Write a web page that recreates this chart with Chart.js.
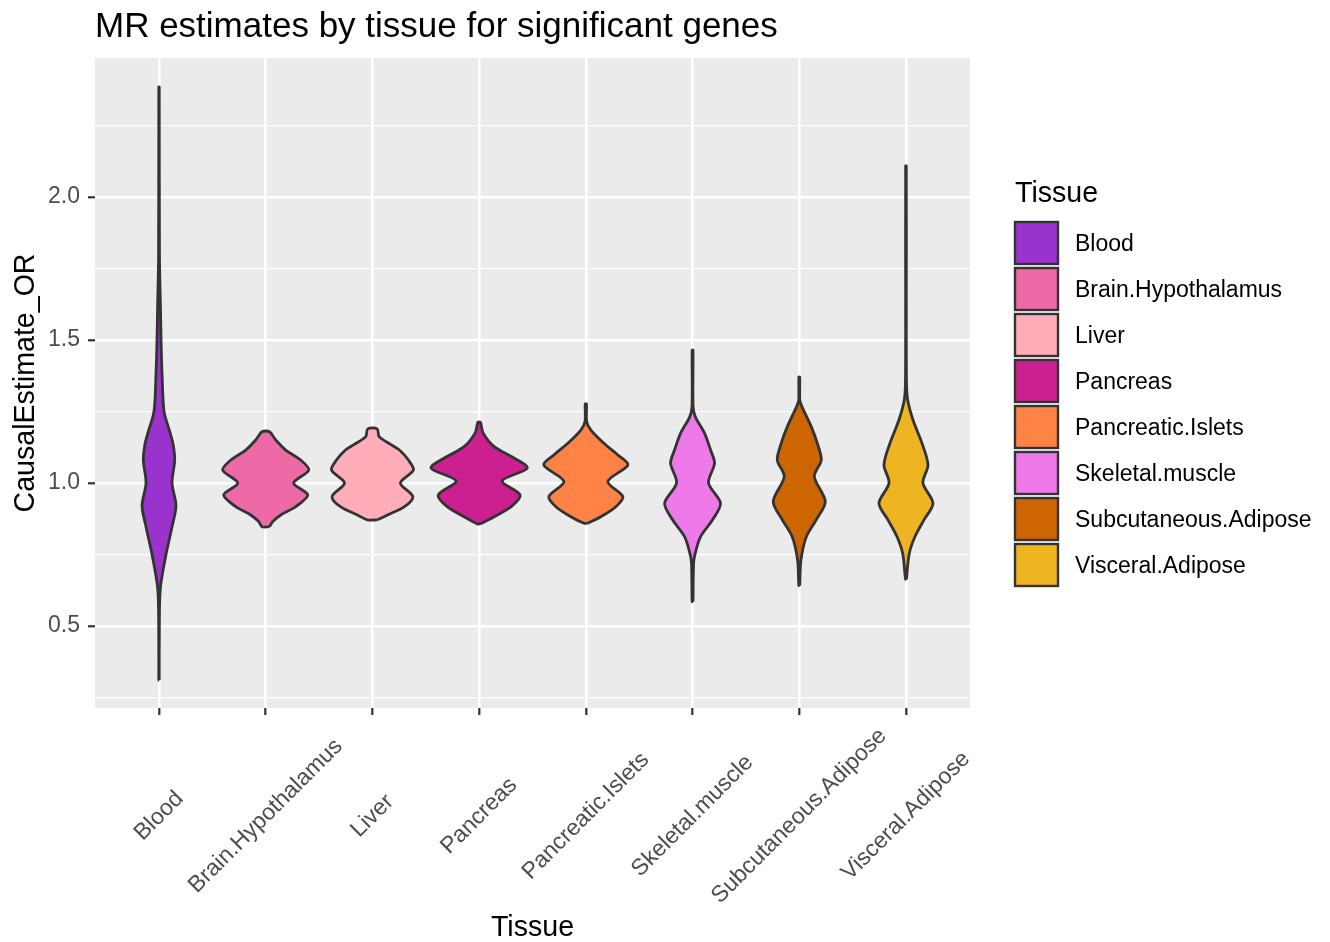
<!DOCTYPE html>
<html><head><meta charset="utf-8">
<script src="https://cdn.jsdelivr.net/npm/chart.js@4.4.0/dist/chart.umd.min.js"></script>
<style>html,body{margin:0;padding:0;background:#fff;} canvas{display:block;}</style>
</head><body>
<canvas id="c" width="1330" height="942"></canvas>
<script>
// ---------- data ----------
const titleText = 'MR estimates by tissue for significant genes';
const xTitle = 'Tissue';
const yTitle = 'CausalEstimate_OR';
const legendTitle = 'Tissue';
const tissues = ['Blood','Brain.Hypothalamus','Liver','Pancreas','Pancreatic.Islets','Skeletal.muscle','Subcutaneous.Adipose','Visceral.Adipose'];
const tissueColors = ['#9A32CD','#EE6AA7','#FFAEB9','#CD2090','#FF8247','#EE7AE9','#CD6600','#EEB422'];
const yTickValues = [0.5, 1.0, 1.5, 2.0];
const yTickLabels = ['0.5', '1.0', '1.5', '2.0'];
const yMinorValues = [0.25, 0.75, 1.25, 1.75, 2.25];

// violin profiles: estimate values (ascending) and half-widths (in category units)
const bloodY = [0.311, 0.50, 0.63, 0.745, 0.847, 0.92, 1.0, 1.08, 1.137, 1.18, 1.25, 1.385, 1.50, 1.60, 1.80, 2.385];
const bloodW = [0.002, 0.003, 0.012, 0.063, 0.122, 0.159, 0.122, 0.147, 0.131, 0.10, 0.047, 0.028, 0.019, 0.014, 0.004, 0.002];
const brainY = [0.847, 0.865, 0.888, 0.917, 0.958, 1.0, 1.045, 1.080, 1.115, 1.150, 1.179];
const brainW = [0.035, 0.066, 0.141, 0.281, 0.394, 0.262, 0.403, 0.328, 0.187, 0.094, 0.035];
const liverY = [0.871, 0.888, 0.917, 0.952, 1.0, 1.045, 1.08, 1.115, 1.135, 1.162, 1.189];
const liverW = [0.047, 0.141, 0.300, 0.379, 0.262, 0.384, 0.337, 0.253, 0.170, 0.063, 0.044];
const pancY = [0.857, 0.882, 0.917, 0.958, 1.007, 1.052, 1.087, 1.127, 1.175, 1.212];
const pancW = [0.016, 0.141, 0.300, 0.384, 0.216, 0.450, 0.328, 0.141, 0.037, 0.012];
const isletY = [0.859, 0.882, 0.917, 0.952, 1.005, 1.063, 1.098, 1.139, 1.185, 1.214, 1.276];
const isletW = [0.016, 0.141, 0.281, 0.347, 0.206, 0.394, 0.300, 0.169, 0.047, 0.008, 0.006];
const skelY = [0.585, 0.72, 0.754, 0.812, 0.871, 0.929, 1.0, 1.069, 1.115, 1.174, 1.232, 1.267, 1.465];
const skelW = [0.004, 0.010, 0.025, 0.075, 0.187, 0.262, 0.150, 0.206, 0.169, 0.112, 0.025, 0.005, 0.004];
const subY = [0.641, 0.731, 0.812, 0.871, 0.935, 1.022, 1.08, 1.139, 1.197, 1.267, 1.29, 1.37];
const subW = [0.004, 0.016, 0.066, 0.159, 0.244, 0.141, 0.206, 0.169, 0.112, 0.025, 0.005, 0.004];
const visY = [0.663, 0.754, 0.812, 0.871, 0.929, 1.0, 1.063, 1.139, 1.22, 1.29, 1.349, 1.60, 2.109];
const visW = [0.004, 0.031, 0.084, 0.169, 0.253, 0.159, 0.206, 0.150, 0.066, 0.016, 0.005, 0.003, 0.003];

const profiles = [[bloodY,bloodW],[brainY,brainW],[liverY,liverW],[pancY,pancW],[isletY,isletW],[skelY,skelW],[subY,subW],[visY,visW]];
const FONT = '"Liberation Sans", Arial, Helvetica, sans-serif';

function violinPoints(idx, ys, ws) {
  const x0 = idx + 1;
  const right = ys.map((y, k) => ({x: x0 + ws[k], y}));
  const left = ys.map((y, k) => ({x: x0 - ws[k], y})).reverse();
  return right.concat(left, [right[0]]);
}

const datasets = tissues.map((t, i) => ({
  label: t,
  data: violinPoints(i, profiles[i][0], profiles[i][1]),
  showLine: true,
  fill: 'shape',
  backgroundColor: tissueColors[i],
  borderColor: '#333333',
  borderWidth: 2.8,
  pointRadius: 0,
  tension: 0.3
}));

const deco = {
  id: 'deco',
  beforeDraw(chart) {
    const {ctx, chartArea: a} = chart;
    ctx.save();
    ctx.fillStyle = '#ffffff';
    ctx.fillRect(0, 0, chart.width, chart.height);
    ctx.fillStyle = '#EBEBEB';
    ctx.fillRect(a.left, a.top, a.right - a.left, a.bottom - a.top);
    ctx.restore();
  },
  afterDraw(chart) {
    const {ctx, chartArea: a, scales: {x}} = chart;
    ctx.save();
    ctx.fillStyle = '#000';
    ctx.font = '35px ' + FONT;
    ctx.textAlign = 'left';
    ctx.textBaseline = 'alphabetic';
    ctx.fillText(titleText, a.left, 37);

    ctx.font = '23px ' + FONT;
    ctx.fillStyle = '#4D4D4D';
    ctx.textAlign = 'center';
    ctx.textBaseline = 'middle';
    tissues.forEach((t, i) => {
      const px = x.getPixelForValue(i + 1);
      ctx.save();
      ctx.translate(px, 816);
      ctx.rotate(-Math.PI / 4);
      ctx.fillText(t, 0, 0);
      ctx.restore();
    });

    ctx.fillStyle = '#000';
    ctx.font = '28.6px ' + FONT;
    ctx.textBaseline = 'alphabetic';
    ctx.textAlign = 'center';
    ctx.fillText(xTitle, (a.left + a.right) / 2, 936);
    ctx.save();
    ctx.translate(34, (a.top + a.bottom) / 2);
    ctx.rotate(-Math.PI / 2);
    ctx.fillText(yTitle, 0, 0);
    ctx.restore();

    ctx.textAlign = 'left';
    ctx.fillText(legendTitle, 1015, 202);
    ctx.font = '23px ' + FONT;
    ctx.textBaseline = 'middle';
    tissues.forEach((t, i) => {
      const y0 = 222 + 46 * i;
      ctx.fillStyle = tissueColors[i];
      ctx.fillRect(1015, y0, 43, 42);
      ctx.strokeStyle = '#333333';
      ctx.lineWidth = 2.4;
      ctx.strokeRect(1015, y0, 43, 42);
      ctx.fillStyle = '#000';
      ctx.fillText(t, 1075, y0 + 23);
    });
    ctx.restore();
  }
};

const isMajor = v => yTickValues.some(m => Math.abs(m - v) < 1e-6);

new Chart(document.getElementById('c'), {
  type: 'scatter',
  data: {datasets},
  plugins: [deco],
  options: {
    responsive: false,
    animation: false,
    devicePixelRatio: 1,
    events: [],
    layout: {padding: {left: 0, top: 58, right: 360, bottom: 0}},
    plugins: {legend: {display: false}, tooltip: {enabled: false}, title: {display: false}},
    scales: {
      x: {
        type: 'linear', min: 0.4, max: 8.6,
        afterBuildTicks: s => { s.ticks = tissues.map((t, i) => ({value: i + 1})); },
        afterFit: s => { s.height = 234; },
        ticks: {display: false},
        grid: {color: '#ffffff', lineWidth: 2.6, drawTicks: true, tickLength: 7, tickColor: '#333333', tickWidth: 2.2},
        border: {display: false}
      },
      y: {
        type: 'linear', min: 0.213, max: 2.486,
        afterBuildTicks: s => { s.ticks = yMinorValues.concat(yTickValues).sort((p, q) => p - q).map(v => ({value: v})); },
        afterFit: s => { s.width = 95; },
        ticks: {
          color: '#4D4D4D', font: {family: FONT, size: 23}, padding: 8,
          callback: v => { const k = yTickValues.findIndex(m => Math.abs(m - v) < 1e-6); return k >= 0 ? yTickLabels[k] : ''; }
        },
        grid: {
          color: '#ffffff',
          lineWidth: c => (c.tick && isMajor(c.tick.value)) ? 2.6 : 1.3,
          drawTicks: true, tickLength: 7, tickWidth: 2.2,
          tickColor: c => (c.tick && isMajor(c.tick.value)) ? '#333333' : 'rgba(0,0,0,0)'
        },
        border: {display: false}
      }
    }
  }
});
</script>
</body></html>
